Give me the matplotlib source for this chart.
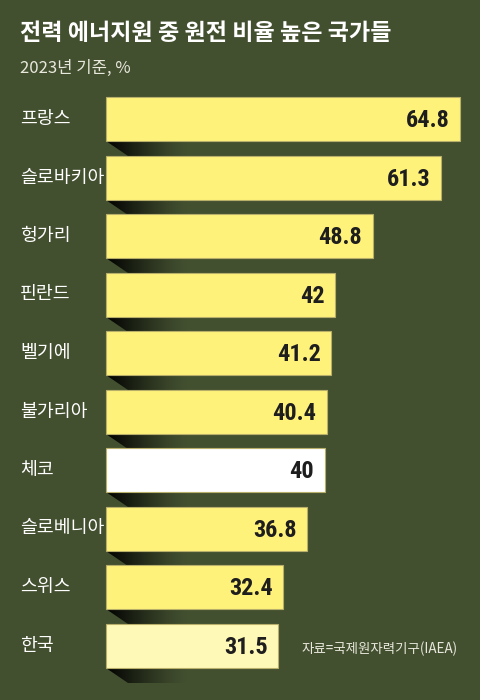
import os
import numpy as np
import matplotlib.pyplot as plt
from matplotlib import font_manager
from matplotlib.patches import Polygon

plt.rcParams['font.family'] = ['Noto Sans CJK KR', 'DejaVu Sans']

# data
countries = ['프랑스', '슬로바키아', '헝가리', '핀란드', '벨기에',
             '불가리아', '체코', '슬로베니아', '스위스', '한국']
values = [64.8, 61.3, 48.8, 42, 41.2, 40.4, 40, 36.8, 32.4, 31.5]
labels = ['64.8', '61.3', '48.8', '42', '41.2', '40.4', '40', '36.8', '32.4', '31.5']

bg = '#435030'
yellow = '#fff27a'
colors = [yellow] * len(values)
colors[countries.index('체코')] = '#ffffff'
colors[countries.index('한국')] = '#fff9b8'

# narrow bold font for the numbers, best one that is installed
prefs = [('robotocondensed-bold', 17.5), ('robotocondensed-semibold', 17.5),
         ('robotocondensed-medium', 17.5), ('liberationsansnarrow-bold', 17.5),
         ('opensans_condensed-bold', 17), ('opensans-condensedbold', 17),
         ('notosans-condensedbold', 17), ('notosans-extracondensedbold', 18.5),
         ('dejavusanscondensed-bold', 15)]
files = {os.path.basename(f.fname).lower(): f.fname for f in font_manager.fontManager.ttflist}
num_font = None
for key, size in prefs:
    hit = [n for n in files if n.startswith(key) and 'italic' not in n and 'oblique' not in n]
    if hit:
        num_font = font_manager.FontProperties(fname=files[sorted(hit)[0]], size=size)
        break
if num_font is None:
    num_font = font_manager.FontProperties(family='DejaVu Sans', weight='bold', size=14)

W, H, DPI = 480, 700, 100
fig = plt.figure(figsize=(W / DPI, H / DPI), dpi=DPI, facecolor=bg)
ax = fig.add_axes([0, 0, 1, 1])
ax.set_facecolor(bg)

# pixel mapping: x=0 at px 106, 64.8 at px 460 ; bar i centred at px 119 + 58.5*i
sx = (460 - 106) / 64.8
sy = 58.5
ax.set_xlim(-106 / sx, (W - 106) / sx)
ax.set_ylim((H - 119) / sy, -119 / sy)
ax.axis('off')

bh = 44 / sy
y = np.arange(len(values))
ax.barh(y, values, height=bh, color=colors, edgecolor='#b8b06a', linewidth=0.8, zorder=3)

# shadow under each bar
grad = np.zeros((1, 256, 4))
grad[..., 3] = np.clip(1.0 - np.linspace(0, 1, 256), 0, 1) ** 1.3
sh = 15 / sy
for i in y:
    top = i + bh / 2
    poly = Polygon([(0, top), (15, top), (15, top + sh), (22 / sx, top + sh)],
                   closed=True, facecolor='none', edgecolor='none')
    ax.add_patch(poly)
    im = ax.imshow(grad, extent=(0, 15, top + sh, top), aspect='auto',
                   interpolation='bilinear', zorder=2)
    im.set_clip_path(poly)

for i, (v, lab, c) in enumerate(zip(values, labels, countries)):
    ax.text(v - 10.5 / sx, i + 0.03, lab, ha='right', va='center',
            fontproperties=num_font, color='#1e1e1e', zorder=4)
    ax.text(-86 / sx, i, c, ha='left', va='center', fontsize=13.2, color='white')

fig.text(20 / W, 1 - 33 / H, '전력 에너지원 중 원전 비율 높은 국가들', ha='left', va='center',
         fontsize=16.6, fontweight='bold', color='white')
fig.text(20 / W, 1 - 68 / H, '2023년 기준, %', ha='left', va='center',
         fontsize=12, color='#e8e8dc')
fig.text(302 / W, 1 - 649 / H, '자료=국제원자력기구(IAEA)', ha='left', va='center',
         fontsize=9.7, color='#e8e8dc')

fig.savefig('out.png', dpi=DPI, facecolor=bg)
